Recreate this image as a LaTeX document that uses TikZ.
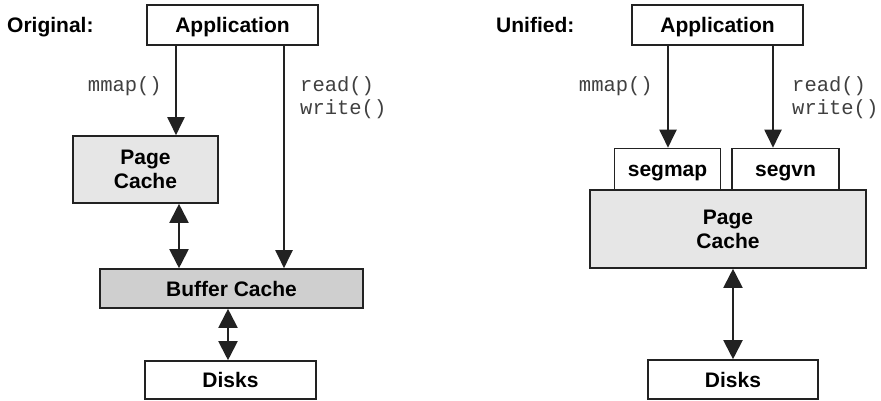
\documentclass[tikz,border=0pt]{standalone}
\usepackage{fontspec}
\setmainfont{Liberation Sans}
\newfontfamily\codefont{Liberation Mono}
\usetikzlibrary{arrows.meta}
\definecolor{lineC}{HTML}{222222}
\definecolor{pageC}{HTML}{E6E6E6}
\definecolor{bufC}{HTML}{CFCFCF}
\tikzset{
  boxst/.style={draw=lineC, line width=1.6pt, rectangle, inner sep=0pt, font=\fontsize{21}{24}\selectfont\bfseries, text=black, align=center},
  onel/.style={text height=15pt, text depth=0pt},
  wbox/.style={boxst, fill=white, onel},
  pbox/.style={boxst, fill=pageC},
  bbox/.style={boxst, fill=bufC, onel},
  codelbl/.style={font=\fontsize{20.5}{23}\selectfont\codefont, text=black!75, inner sep=0pt},
  titlelbl/.style={font=\fontsize{21}{24}\selectfont\bfseries, text=black, inner sep=0pt, onel},
  arr/.style={draw=lineC, line width=2pt, -{Triangle[width=17pt,length=18pt]}},
  darr/.style={draw=lineC, line width=2pt, {Triangle[width=19pt,length=19pt]}-{Triangle[width=19pt,length=19pt]}},
}
\begin{document}
\begin{tikzpicture}[x=1pt,y=-1pt]
\useasboundingbox (0,0) rectangle (881,400);
% ---------- Original ----------
\node[titlelbl, anchor=west] (orig) at (7,24.5) {Original:};
\node[wbox, minimum width=171pt, minimum height=40pt] (appL) at (232.5,25) {Application};
\node[pbox, minimum width=145pt, minimum height=67pt] (pcL) at (145.5,169.5) {Page\\Cache};
\node[bbox, minimum width=263pt, minimum height=39pt] (bcL) at (231.5,288.5) {Buffer Cache};
\node[wbox, minimum width=171pt, minimum height=38pt] (dkL) at (230.5,380) {Disks};
\node[codelbl, anchor=base east] (mmapL) at (162,91) {mmap()};
\node[codelbl, anchor=base west] (rdL) at (300,91) {read()};
\node[codelbl, anchor=base west] (wrL) at (300,114) {write()};
\draw[arr] (appL.south -| 176,0) -- (pcL.north -| 176,0);
\draw[arr] (appL.south -| 284,0) -- (bcL.north -| 284,0);
\draw[darr] (pcL.south -| 179,0) -- (bcL.north -| 179,0);
\draw[darr] (bcL.south -| 228,0) -- (dkL.north -| 228,0);
% ---------- Unified ----------
\node[titlelbl, anchor=west] (unif) at (496,24.5) {Unified:};
\node[wbox, minimum width=171pt, minimum height=40pt] (appR) at (717.5,25) {Application};
\node[pbox, minimum width=276pt, minimum height=78pt] (pcR) at (728,229) {Page\\Cache};
\node[wbox, minimum width=106pt, minimum height=41pt] (segmap) at (667.5,169) {segmap};
\node[wbox, minimum width=107pt, minimum height=41pt] (segvn) at (785.5,169) {segvn};
\node[wbox, minimum width=170pt, minimum height=39pt] (dkR) at (733,379.5) {Disks};
\node[codelbl, anchor=base east] (mmapR) at (653,91) {mmap()};
\node[codelbl, anchor=base west] (rdR) at (792,91) {read()};
\node[codelbl, anchor=base west] (wrR) at (792,114) {write()};
\draw[arr] (appR.south -| 668,0) -- (segmap.north -| 668,0);
\draw[arr] (appR.south -| 773,0) -- (segvn.north -| 773,0);
\draw[darr] (pcR.south -| 733,0) -- (dkR.north);
\end{tikzpicture}
\end{document}
